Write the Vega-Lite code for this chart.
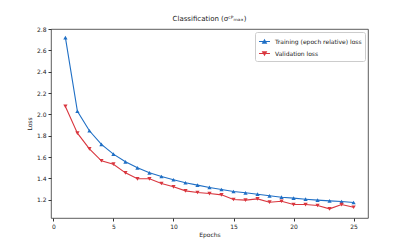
{
  "$schema": "https://vega.github.io/schema/vega-lite/v6.json",
  "width": 317,
  "height": 189,
  "autosize": {"type": "none"},
  "padding": {"left": 51, "top": 29, "right": 41, "bottom": 27},
  "background": "white",
  "title": {"text": "Classification (σᶜᴾₘₐₓ)", "fontSize": 7, "fontWeight": "normal", "font": "DejaVu Sans", "color": "#222", "offset": 4},
  "config": {
    "view": {"stroke": "#333", "strokeWidth": 0.8},
    "axis": {"labelFont": "DejaVu Sans", "titleFont": "DejaVu Sans", "labelFontSize": 6, "titleFontSize": 6, "titleFontWeight": "normal", "labelColor": "#222", "titleColor": "#222", "tickColor": "#333", "tickSize": 3, "domain": false, "grid": false, "labelPadding": 2}
  },
  "data": {"values": [
    {"epoch": 1, "loss": 2.72, "series": "Training (epoch relative) loss"},
    {"epoch": 2, "loss": 2.03, "series": "Training (epoch relative) loss"},
    {"epoch": 3, "loss": 1.847, "series": "Training (epoch relative) loss"},
    {"epoch": 4, "loss": 1.72, "series": "Training (epoch relative) loss"},
    {"epoch": 5, "loss": 1.628, "series": "Training (epoch relative) loss"},
    {"epoch": 6, "loss": 1.556, "series": "Training (epoch relative) loss"},
    {"epoch": 7, "loss": 1.5, "series": "Training (epoch relative) loss"},
    {"epoch": 8, "loss": 1.453, "series": "Training (epoch relative) loss"},
    {"epoch": 9, "loss": 1.419, "series": "Training (epoch relative) loss"},
    {"epoch": 10, "loss": 1.388, "series": "Training (epoch relative) loss"},
    {"epoch": 11, "loss": 1.36, "series": "Training (epoch relative) loss"},
    {"epoch": 12, "loss": 1.338, "series": "Training (epoch relative) loss"},
    {"epoch": 13, "loss": 1.316, "series": "Training (epoch relative) loss"},
    {"epoch": 14, "loss": 1.297, "series": "Training (epoch relative) loss"},
    {"epoch": 15, "loss": 1.278, "series": "Training (epoch relative) loss"},
    {"epoch": 16, "loss": 1.266, "series": "Training (epoch relative) loss"},
    {"epoch": 17, "loss": 1.253, "series": "Training (epoch relative) loss"},
    {"epoch": 18, "loss": 1.238, "series": "Training (epoch relative) loss"},
    {"epoch": 19, "loss": 1.225, "series": "Training (epoch relative) loss"},
    {"epoch": 20, "loss": 1.216, "series": "Training (epoch relative) loss"},
    {"epoch": 21, "loss": 1.206, "series": "Training (epoch relative) loss"},
    {"epoch": 22, "loss": 1.197, "series": "Training (epoch relative) loss"},
    {"epoch": 23, "loss": 1.19, "series": "Training (epoch relative) loss"},
    {"epoch": 24, "loss": 1.184, "series": "Training (epoch relative) loss"},
    {"epoch": 25, "loss": 1.175, "series": "Training (epoch relative) loss"},
    {"epoch": 1, "loss": 2.075, "series": "Validation loss"},
    {"epoch": 2, "loss": 1.825, "series": "Validation loss"},
    {"epoch": 3, "loss": 1.678, "series": "Validation loss"},
    {"epoch": 4, "loss": 1.566, "series": "Validation loss"},
    {"epoch": 5, "loss": 1.534, "series": "Validation loss"},
    {"epoch": 6, "loss": 1.453, "series": "Validation loss"},
    {"epoch": 7, "loss": 1.397, "series": "Validation loss"},
    {"epoch": 8, "loss": 1.397, "series": "Validation loss"},
    {"epoch": 9, "loss": 1.353, "series": "Validation loss"},
    {"epoch": 10, "loss": 1.322, "series": "Validation loss"},
    {"epoch": 11, "loss": 1.284, "series": "Validation loss"},
    {"epoch": 12, "loss": 1.269, "series": "Validation loss"},
    {"epoch": 13, "loss": 1.259, "series": "Validation loss"},
    {"epoch": 14, "loss": 1.247, "series": "Validation loss"},
    {"epoch": 15, "loss": 1.203, "series": "Validation loss"},
    {"epoch": 16, "loss": 1.197, "series": "Validation loss"},
    {"epoch": 17, "loss": 1.209, "series": "Validation loss"},
    {"epoch": 18, "loss": 1.178, "series": "Validation loss"},
    {"epoch": 19, "loss": 1.187, "series": "Validation loss"},
    {"epoch": 20, "loss": 1.156, "series": "Validation loss"},
    {"epoch": 21, "loss": 1.156, "series": "Validation loss"},
    {"epoch": 22, "loss": 1.147, "series": "Validation loss"},
    {"epoch": 23, "loss": 1.116, "series": "Validation loss"},
    {"epoch": 24, "loss": 1.156, "series": "Validation loss"},
    {"epoch": 25, "loss": 1.131, "series": "Validation loss"}
  ]},
  "encoding": {
    "x": {"field": "epoch", "type": "quantitative", "title": "Epochs", "scale": {"domain": [-0.2, 26.2], "nice": false, "zero": false}, "axis": {"values": [0, 5, 10, 15, 20, 25], "titlePadding": 2}},
    "y": {"field": "loss", "type": "quantitative", "title": "Loss", "scale": {"domain": [1.03, 2.8], "nice": false, "zero": false}, "axis": {"values": [1.2, 1.4, 1.6, 1.8, 2.0, 2.2, 2.4, 2.6, 2.8], "format": ".1f", "titlePadding": 4}},
    "color": {"field": "series", "type": "nominal", "scale": {"domain": ["Training (epoch relative) loss", "Validation loss"], "range": ["#1f6fc5", "#d9363e"]},
      "legend": {"title": null, "orient": "top-right", "offset": 3, "labelFont": "DejaVu Sans", "labelFontSize": 6, "labelColor": "#222", "strokeColor": "#ccc", "fillColor": "white", "padding": 3, "rowPadding": 1, "symbolSize": 120, "symbolStrokeWidth": 1.1, "cornerRadius": 2, "labelOffset": 4,
        "encode": {"symbols": {"update": {"shape": {"signal": "datum.value === 'Validation loss' ? 'M-1,0H1M-0.34,-0.29L0.34,-0.29L0,0.29Z' : 'M-1,0H1M-0.34,0.29L0.34,0.29L0,-0.29Z'"}}}}}}
  },
  "layer": [
    {"mark": {"type": "line", "strokeWidth": 1.1}},
    {"mark": {"type": "point", "filled": true, "size": 18, "opacity": 1},
     "encoding": {"shape": {"condition": {"test": "datum.series === 'Validation loss'", "value": "triangle-down"}, "value": "triangle-up"}}}
  ]
}
